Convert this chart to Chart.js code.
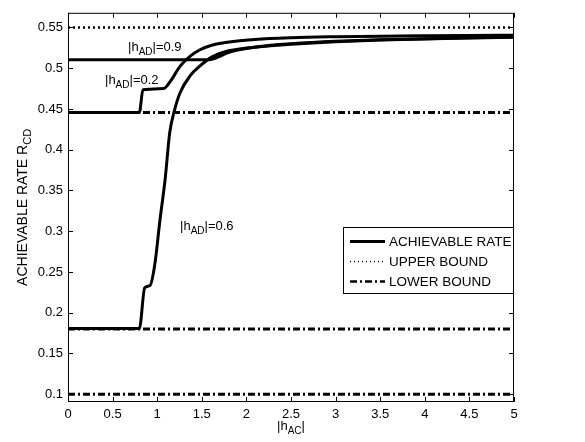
<!DOCTYPE html>
<html>
<head>
<meta charset="utf-8">
<script src="https://cdn.jsdelivr.net/npm/chart.js@4.4.1/dist/chart.umd.min.js"></script>
<style>
  html, body { margin: 0; padding: 0; background: #fff; }
  canvas { display: block; }
</style>
</head>
<body>
<canvas id="rateChart" width="585" height="442"></canvas>
<script>
  // axis ranges and ticks
  const xMin = 0, xMax = 5;
  const yMin = 0.0904, yMax = 0.568;
  const xTicks = [0, 0.5, 1, 1.5, 2, 2.5, 3, 3.5, 4, 4.5, 5];
  const yTicks = [0.1, 0.15, 0.2, 0.25, 0.3, 0.35, 0.4, 0.45, 0.5, 0.55];

  // achievable rate, |h_AD| = 0.2
  const rate02X = [0, 0.80, 0.84, 1.07, 1.14, 1.26, 1.37, 1.48, 1.63, 1.85, 2.27, 2.5, 3, 3.5, 4, 4.5, 5];
  const rate02Y = [0.4457, 0.4457, 0.4735, 0.4750, 0.4828, 0.5028, 0.5148, 0.5227, 0.5288, 0.5328, 0.5365, 0.5375, 0.5386, 0.5393, 0.5398, 0.5402, 0.5405];

  // achievable rate, |h_AD| = 0.6
  const rate06X = [0, 0.80, 0.86, 0.92, 0.975, 1.03, 1.09, 1.14, 1.19, 1.26, 1.37, 1.48, 1.61, 1.78, 2.0, 2.27, 2.5, 3, 3.5, 4, 4.5, 5];
  const rate06Y = [0.1806, 0.1806, 0.2307, 0.2334, 0.2607, 0.3127, 0.3648, 0.4207, 0.4468, 0.4708, 0.4908, 0.5028, 0.5136, 0.5208, 0.5248, 0.5276, 0.5295, 0.5325, 0.5345, 0.5360, 0.5370, 0.5380];

  // achievable rate, |h_AD| = 0.9
  const rate09X = [0, 1.58, 1.68, 1.78, 1.9, 2.05, 2.27, 2.5, 3, 3.5, 4, 4.5, 5];
  const rate09Y = [0.5105, 0.5105, 0.5135, 0.5185, 0.5222, 0.5252, 0.5282, 0.5301, 0.5330, 0.5349, 0.5363, 0.5373, 0.5382];

  const upperBound = 0.55;
  const lowerBounds = [0.1, 0.18, 0.4457];

  // text labels on the plot (data coordinates)
  const curveLabels = [
    { x: 0.673, y: 0.5212, value: '0.9' },
    { x: 0.415, y: 0.4810, value: '0.2' },
    { x: 1.256, y: 0.3016, value: '0.6' }
  ];

  const legendItems = [
    { text: 'ACHIEVABLE RATE', width: 3, dash: [] },
    { text: 'UPPER BOUND', width: 1.5, dash: [1, 3] },
    { text: 'LOWER BOUND', width: 2.5, dash: [7, 3, 2, 3] }
  ];

  const FONT = '"Liberation Sans", Arial, Helvetica, sans-serif';
  const MAIN_FONT = '13px ' + FONT;
  const SUB_FONT = '10px ' + FONT;
  const DOTTED = [2, 3];
  const DASHDOT = [7, 3, 2, 3];

  const pts = (xs, ys) => xs.map((x, i) => ({ x: x, y: ys[i] }));
  const flat = v => [{ x: xMin, y: v }, { x: xMax, y: v }];

  const rateStyle = {
    borderColor: '#000',
    borderWidth: 3,
    pointRadius: 0,
    showLine: true,
    fill: false,
    cubicInterpolationMode: 'monotone'
  };

  const datasets = [
    Object.assign({ label: 'rate 0.2', data: pts(rate02X, rate02Y) }, rateStyle),
    Object.assign({ label: 'rate 0.6', data: pts(rate06X, rate06Y) }, rateStyle),
    Object.assign({ label: 'rate 0.9', data: pts(rate09X, rate09Y) }, rateStyle),
    {
      label: 'upper bound', data: flat(upperBound),
      borderColor: '#000', borderWidth: 2.5, borderDash: DOTTED,
      pointRadius: 0, showLine: true
    }
  ];
  lowerBounds.forEach(v => {
    datasets.push({
      label: 'lower bound', data: flat(v),
      borderColor: '#000', borderWidth: 3, borderDash: DASHDOT,
      pointRadius: 0, showLine: true
    });
  });

  // writes text pieces, some of them as subscripts
  function drawSubText(ctx, parts, x, y, align, mainFont, subFont) {
    mainFont = mainFont || MAIN_FONT;
    subFont = subFont || SUB_FONT;
    const widths = parts.map(p => {
      ctx.font = p.sub ? subFont : mainFont;
      return ctx.measureText(p.t).width;
    });
    const total = widths.reduce((a, b) => a + b, 0);
    let cx = align === 'center' ? x - total / 2 : x;
    ctx.textAlign = 'left';
    ctx.textBaseline = 'alphabetic';
    parts.forEach((p, i) => {
      ctx.font = p.sub ? subFont : mainFont;
      ctx.fillText(p.t, cx, p.sub ? y + 4 : y);
      cx += widths[i];
    });
  }

  const decorPlugin = {
    id: 'decor',
    afterDatasetsDraw(chart) {
      const { ctx, chartArea: a, scales: { x, y } } = chart;
      ctx.save();
      ctx.fillStyle = '#000';
      ctx.strokeStyle = '#000';

      // frame and inward ticks
      ctx.lineWidth = 1;
      ctx.setLineDash([]);
      ctx.strokeRect(a.left + 0.5, a.top + 0.5, a.right - a.left - 1, a.bottom - a.top - 1);
      ctx.beginPath();
      xTicks.forEach(v => {
        const px = Math.round(x.getPixelForValue(v)) + 0.5;
        ctx.moveTo(px, a.bottom); ctx.lineTo(px, a.bottom - 5);
        ctx.moveTo(px, a.top); ctx.lineTo(px, a.top + 5);
      });
      yTicks.forEach(v => {
        const py = Math.round(y.getPixelForValue(v)) + 0.5;
        ctx.moveTo(a.left, py); ctx.lineTo(a.left + 5, py);
        ctx.moveTo(a.right, py); ctx.lineTo(a.right - 5, py);
      });
      ctx.stroke();

      // curve labels
      curveLabels.forEach(l => {
        drawSubText(ctx, [{ t: '|h' }, { t: 'AD', sub: true }, { t: '|=' + l.value }],
          x.getPixelForValue(l.x), y.getPixelForValue(l.y), 'left');
      });

      // axis titles
      drawSubText(ctx, [{ t: '|h' }, { t: 'AC', sub: true }, { t: '|' }],
        (a.left + a.right) / 2, 430, 'center');
      ctx.save();
      ctx.translate(27, (a.top + a.bottom) / 2);
      ctx.rotate(-Math.PI / 2);
      drawSubText(ctx, [{ t: 'ACHIEVABLE RATE R' }, { t: 'CD', sub: true }], 0, 0, 'center',
        '14px ' + FONT, '11px ' + FONT);
      ctx.restore();

      // legend
      const bx = 343, by = 227, bw = 170, bh = 66;
      ctx.fillStyle = '#fff';
      ctx.fillRect(bx, by, bw, bh);
      ctx.lineWidth = 1;
      ctx.strokeRect(bx + 0.5, by + 0.5, bw, bh);
      ctx.fillStyle = '#000';
      legendItems.forEach((item, i) => {
        const ry = by + 14.5 + i * 20;
        ctx.beginPath();
        ctx.lineWidth = item.width;
        ctx.setLineDash(item.dash);
        ctx.moveTo(bx + 7, ry);
        ctx.lineTo(bx + 42, ry);
        ctx.stroke();
        ctx.setLineDash([]);
        ctx.font = '13.5px ' + FONT;
        ctx.textAlign = 'left';
        ctx.textBaseline = 'middle';
        ctx.fillText(item.text, bx + 46, ry + 1);
      });
      ctx.restore();
    }
  };

  const tickFont = { family: FONT, size: 13 };

  new Chart(document.getElementById('rateChart'), {
    type: 'scatter',
    data: { datasets: datasets },
    options: {
      responsive: false,
      animation: false,
      devicePixelRatio: 1,
      layout: { padding: { top: 4, right: 71, left: 0, bottom: 0 } },
      plugins: { legend: { display: false }, tooltip: { enabled: false } },
      scales: {
        x: {
          type: 'linear', min: xMin, max: xMax,
          grid: { display: false, drawTicks: false },
          border: { display: false },
          ticks: { color: '#000', font: tickFont, padding: 5, maxRotation: 0,
            callback: v => String(v) },
          afterBuildTicks: s => { s.ticks = xTicks.map(v => ({ value: v })); },
          afterFit: s => { s.height = 40; }
        },
        y: {
          type: 'linear', min: yMin, max: yMax,
          grid: { display: false, drawTicks: false },
          border: { display: false },
          ticks: { color: '#000', font: tickFont, padding: 5,
            callback: v => String(v) },
          afterBuildTicks: s => { s.ticks = yTicks.map(v => ({ value: v })); },
          afterFit: s => { s.width = 68; }
        }
      }
    },
    plugins: [decorPlugin]
  });
</script>
</body>
</html>
